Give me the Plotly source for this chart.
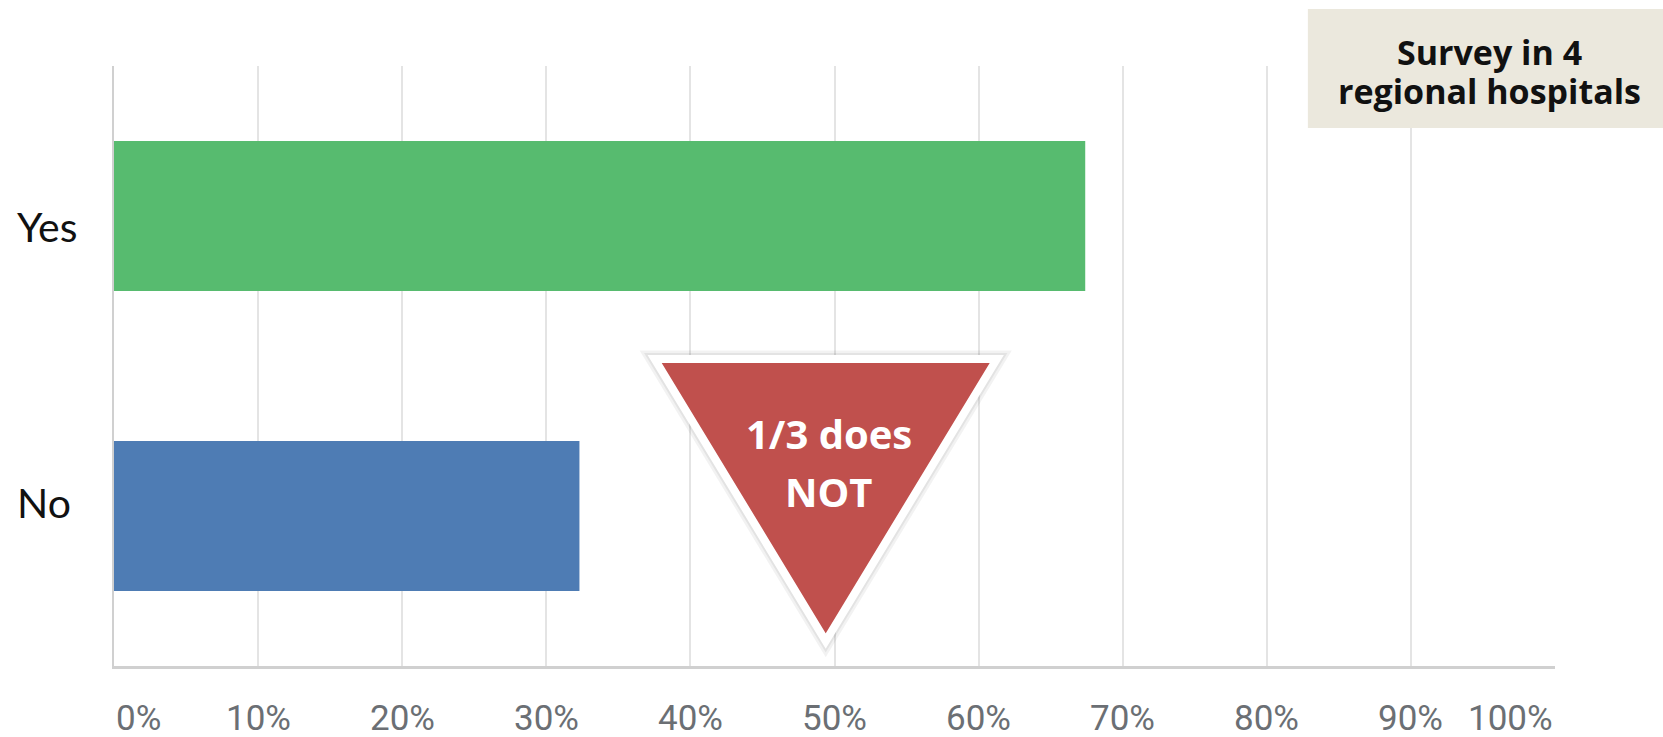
import plotly.graph_objects as go

# Survey answers (share of respondents, %)
categories = ["Yes", "No"]
shares = [67.4, 32.3]
bar_colors = ["#57bb6f", "#4e7cb4"]

# Horizontal axis ticks
tick_vals = [0, 10, 20, 30, 40, 50, 60, 70, 80, 90, 100]
tick_text = ["0%", "10%", "20%", "30%", "40%", "50%", "60%", "70%", "80%", "90%", "100%"]

# Callout texts
note_lines = ["Survey in 4", "regional hospitals"]
callout_lines = ["1/3 does", "NOT"]

W, H = 1663, 737
fig = go.Figure()

fig.add_trace(go.Bar(
    y=categories,
    x=shares,
    orientation="h",
    width=0.5,
    marker=dict(color=bar_colors, line=dict(width=0)),
    hoverinfo="x+y",
    showlegend=False,
))

annotations = []

# category labels on the left, left-aligned
label_shift = {"Yes": -10, "No": 14}
for cat in categories:
    annotations.append(dict(
        x=0, xref="paper", y=cat, yref="y",
        xanchor="left", yanchor="middle", xshift=-99, yshift=label_shift[cat],
        text=cat, showarrow=False,
        font=dict(family="Lato", size=41, color="#111111"),
    ))

# percentage labels under the axis (first left-aligned, last right-aligned)
for i, (v, t) in enumerate(zip(tick_vals, tick_text)):
    if i == 0:
        anchor = "left"
    elif i == len(tick_vals) - 1:
        anchor = "right"
    else:
        anchor = "center"
    annotations.append(dict(
        x=v, xref="x", y=0, yref="paper",
        xanchor=anchor, yanchor="middle", yshift=-52,
        text=t, showarrow=False,
        font=dict(family="Roboto", size=35, color="#6b6f74"),
    ))

# note box text, one annotation per line
for txt, yy in zip(note_lines, [1.0233, 0.958]):
    annotations.append(dict(
        x=0.9542, xref="paper", y=yy, yref="paper",
        xanchor="center", yanchor="middle",
        text="<b>" + txt + "</b>", showarrow=False,
        font=dict(family="Open Sans", size=34, color="#111111"),
    ))

# text inside the red triangle
for txt, yy in zip(callout_lines, [0.3875, 0.2908]):
    annotations.append(dict(
        x=49.6, xref="x", y=yy, yref="paper",
        xanchor="center", yanchor="middle",
        text="<b>" + txt + "</b>", showarrow=False,
        font=dict(family="Open Sans", size=40, color="#ffffff"),
    ))

tri = "M 37.52 0.5117 L 61.26 0.5117 L 49.39 0.0417 Z"

shapes = [
    # note box
    dict(type="rect", xref="paper", yref="paper",
         x0=0.8285, x1=1.08, y0=0.8967, y1=1.095,
         fillcolor="#ebe8dd", line=dict(width=0), layer="above"),
    # soft glow around the callout
    dict(type="path", xref="x", yref="paper", path=tri,
         fillcolor="rgba(0,0,0,0.05)", line=dict(color="rgba(0,0,0,0.05)", width=17),
         layer="above"),
    dict(type="path", xref="x", yref="paper", path=tri,
         fillcolor="rgba(0,0,0,0.06)", line=dict(color="rgba(0,0,0,0.06)", width=12),
         layer="above"),
    # callout triangle
    dict(type="path", xref="x", yref="paper", path=tri,
         fillcolor="#c0504d", line=dict(color="#ffffff", width=8),
         layer="above"),
]

fig.update_layout(
    width=W, height=H,
    margin=dict(l=114, r=108, t=66, b=71, pad=0),
    paper_bgcolor="#ffffff",
    plot_bgcolor="#ffffff",
    annotations=annotations,
    shapes=shapes,
    bargap=0.5,
    xaxis=dict(
        range=[0, 100], tickvals=tick_vals, showticklabels=False,
        showgrid=True, gridcolor="#e4e4e4", gridwidth=1.5,
        zeroline=False, showline=True, linecolor="#d0d0d0", linewidth=2.5,
        fixedrange=True,
    ),
    yaxis=dict(
        range=[1.5, -0.5], type="category", showticklabels=False,
        showgrid=False, zeroline=False,
        showline=True, linecolor="#d0d0d0", linewidth=2,
        fixedrange=True,
    ),
)

fig.write_html("out.html")
